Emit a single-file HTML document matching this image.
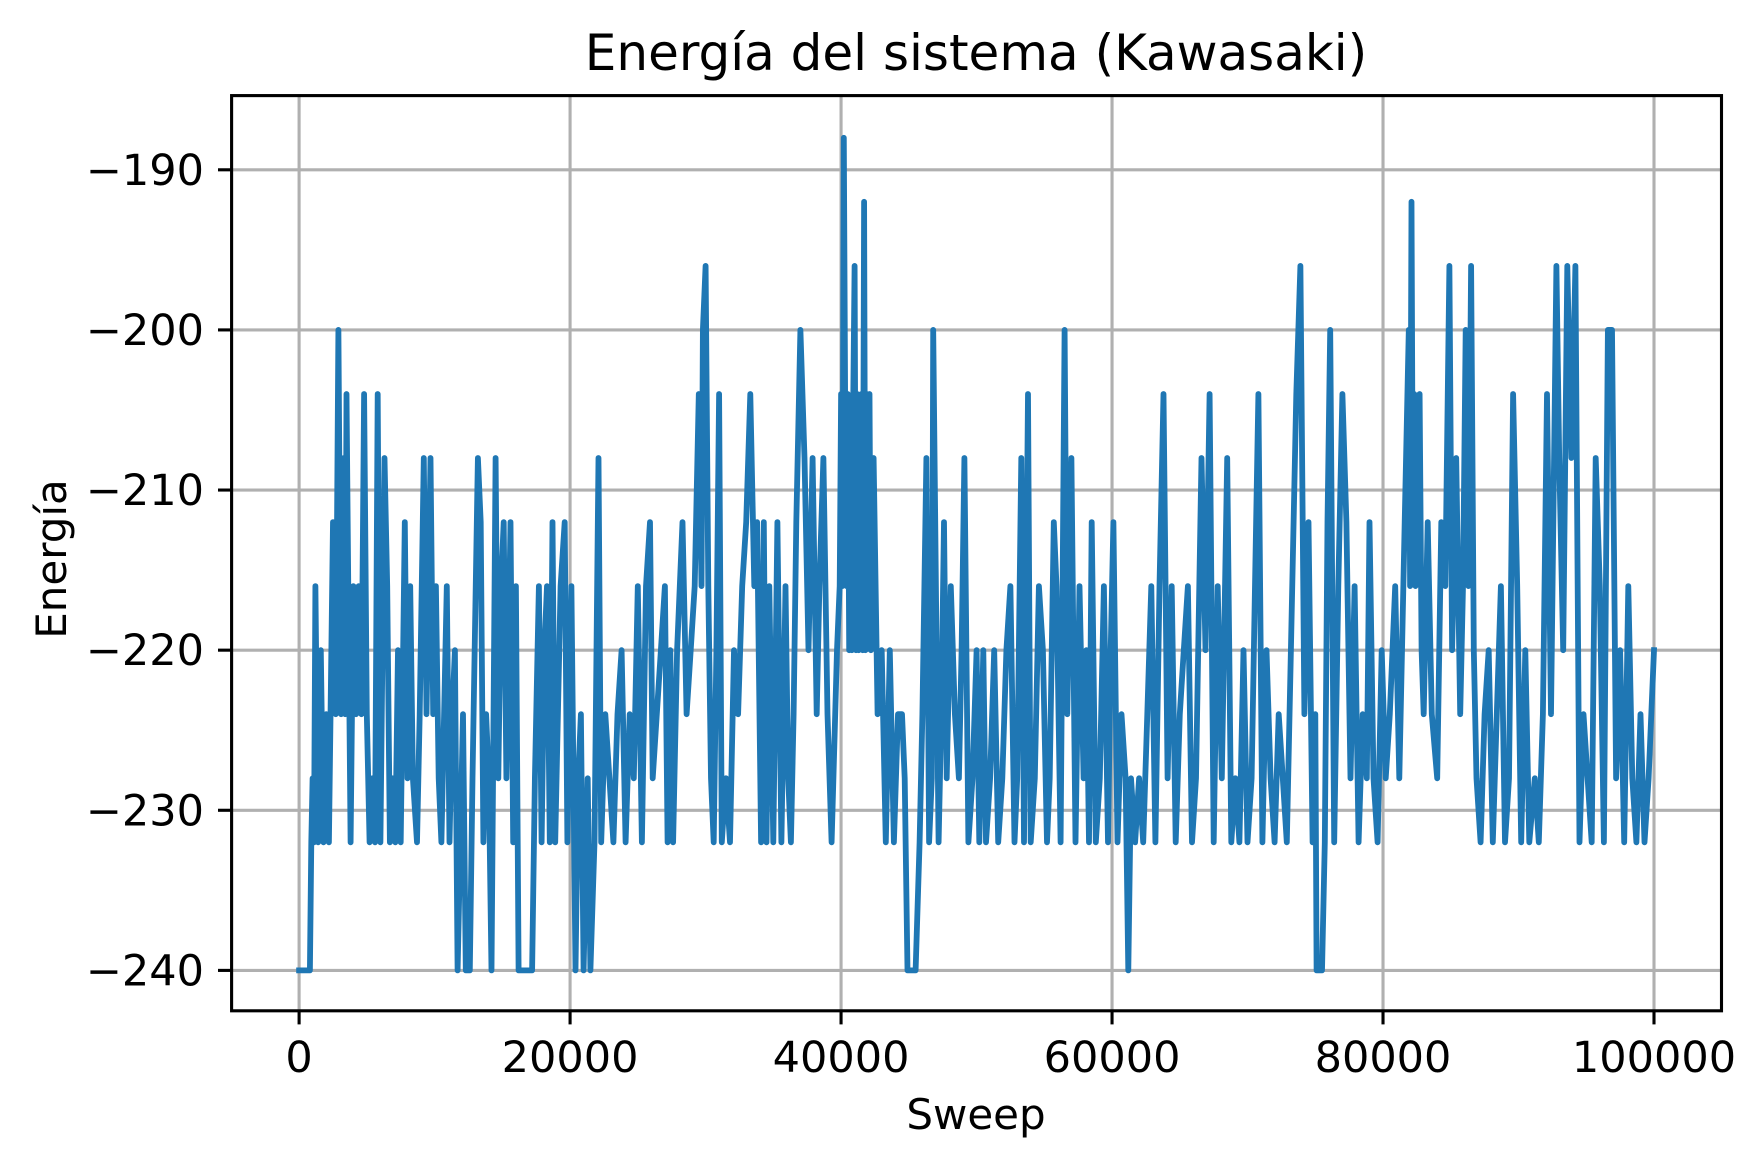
<!DOCTYPE html>
<html><head><meta charset="utf-8"><style>
html,body{margin:0;padding:0;background:#fff;}
svg{display:block;font-family:"DejaVu Sans","Liberation Sans",sans-serif;}
</style></head><body>
<svg id="chart" width="1763" height="1167" viewBox="0 0 1763 1167" xmlns="http://www.w3.org/2000/svg">
<rect x="0" y="0" width="1763" height="1167" fill="#fff"/>
<text x="976" y="70" font-size="50" text-anchor="middle" fill="#000">Energía del sistema (Kawasaki)</text>
<g id="grid"></g>
<g id="series"></g>
<rect x="231.6" y="95.6" width="1489.9" height="915.2" fill="none" stroke="#000" stroke-width="3.1"/>
<g id="xticks"></g>
<g id="yticks"></g>
<text x="976" y="1129" font-size="42" text-anchor="middle" fill="#000">Sweep</text>
<text x="0" y="0" font-size="42" text-anchor="middle" fill="#000" transform="translate(66,559) rotate(-90)">Energía</text>
</svg>
<script>
const xTickValues = [0, 20000, 40000, 60000, 80000, 100000];
const xTickLabels = ["0", "20000", "40000", "60000", "80000", "100000"];
const yTickValues = [-190, -200, -210, -220, -230, -240];
const yTickLabels = ["\u2212190", "\u2212200", "\u2212210", "\u2212220", "\u2212230", "\u2212240"];
const sweeps = [0,800,900,1000,1100,1200,1400,1600,1800,2000,2200,2500,2700,2900,3100,3300,3400,3500,3800,4000,4200,4400,4600,4800,5000,5200,5400,5600,5800,6000,6300,6500,6700,6900,7100,7300,7500,7800,8000,8200,8400,8700,8900,9200,9400,9700,9900,10100,10300,10500,10900,11100,11300,11500,11700,11900,12100,12300,12600,12800,13200,13400,13600,13800,14000,14200,14500,14700,14900,15100,15300,15600,15800,16000,16200,17200,17400,17700,17900,18100,18300,18500,18700,18900,19100,19300,19600,19800,20100,20400,20600,20800,21000,21300,21500,21800,22100,22300,22600,22900,23200,23500,23800,24100,24400,24700,25000,25300,25600,25900,26100,26400,26700,27000,27200,27400,27600,27900,28100,28300,28600,28900,29200,29500,29700,29800,30000,30200,30400,30600,30800,31000,31200,31500,31800,32100,32400,32700,33000,33300,33600,33800,34100,34300,34500,34700,35000,35300,35600,35900,36100,36300,36500,36700,37000,37300,37600,37900,38200,38400,38700,39000,39300,39700,39900,40000,40100,40200,40300,40400,40500,40600,40700,40800,40900,41000,41100,41200,41300,41400,41500,41600,41700,41800,41900,42000,42100,42200,42400,42700,43000,43300,43600,43900,44200,44500,44700,44900,45500,45800,46000,46300,46500,46700,46800,47000,47200,47400,47600,47800,48100,48400,48700,48900,49100,49400,49700,50000,50200,50500,50700,51000,51300,51600,51900,52200,52500,52800,53000,53300,53500,53800,54000,54300,54600,54900,55200,55400,55700,55900,56200,56500,56700,57000,57300,57600,57900,58100,58300,58500,58800,59100,59400,59700,59900,60100,60400,60700,61000,61200,61400,61700,62000,62300,62600,62900,63200,63500,63800,64100,64400,64700,65000,65300,65600,65900,66200,66600,66900,67200,67500,67800,68100,68500,68800,69100,69400,69700,70000,70300,70800,71100,71400,71700,72000,72300,72600,72900,73200,73600,73900,74200,74500,74800,75000,75100,75500,75700,75900,76100,76400,76700,77000,77300,77600,77900,78200,78500,78800,79000,79300,79600,79900,80200,80500,80900,81200,81600,81900,82000,82100,82200,82300,82400,82500,82700,82850,83000,83300,83600,84000,84300,84600,84900,85100,85400,85700,85900,86100,86300,86500,86700,86900,87200,87500,87800,88100,88400,88700,89000,89300,89600,89900,90200,90500,90800,91200,91500,91800,92100,92400,92800,93000,93300,93600,93900,94200,94500,94800,95100,95400,95700,96000,96300,96600,96900,97200,97500,97800,98100,98400,98700,99000,99300,99600,100000];
const energies = [-240,-240,-232,-228,-232,-216,-232,-220,-232,-224,-232,-212,-224,-200,-224,-208,-224,-204,-232,-216,-224,-216,-224,-204,-224,-232,-228,-232,-204,-232,-208,-216,-232,-228,-232,-220,-232,-212,-228,-216,-228,-232,-224,-208,-224,-208,-224,-216,-228,-232,-216,-232,-224,-220,-240,-232,-224,-240,-240,-228,-208,-212,-232,-224,-228,-240,-208,-228,-216,-212,-228,-212,-232,-216,-240,-240,-228,-216,-232,-220,-216,-232,-212,-232,-224,-216,-212,-232,-216,-240,-228,-224,-240,-228,-240,-232,-208,-232,-224,-228,-232,-224,-220,-232,-224,-228,-216,-232,-216,-212,-228,-224,-220,-216,-232,-220,-232,-220,-216,-212,-224,-220,-216,-204,-216,-200,-196,-216,-228,-232,-220,-204,-232,-228,-232,-220,-224,-216,-212,-204,-216,-212,-232,-212,-232,-216,-232,-212,-232,-216,-228,-232,-224,-212,-200,-208,-220,-208,-224,-216,-208,-224,-232,-220,-216,-204,-216,-188,-204,-216,-204,-220,-208,-220,-204,-196,-220,-204,-220,-208,-204,-220,-192,-220,-204,-216,-204,-220,-208,-224,-220,-232,-220,-232,-224,-224,-228,-240,-240,-232,-224,-208,-232,-228,-200,-216,-232,-224,-212,-228,-216,-224,-228,-220,-208,-232,-228,-220,-232,-220,-232,-228,-220,-232,-228,-220,-216,-232,-228,-208,-232,-204,-232,-228,-216,-220,-232,-228,-212,-216,-232,-200,-224,-208,-232,-216,-228,-220,-232,-212,-232,-228,-216,-232,-220,-212,-232,-224,-228,-240,-228,-232,-228,-232,-224,-216,-232,-216,-204,-228,-216,-232,-224,-220,-216,-232,-228,-208,-220,-204,-232,-216,-228,-208,-232,-228,-232,-220,-232,-228,-204,-232,-220,-228,-232,-224,-228,-232,-220,-204,-196,-224,-212,-232,-224,-240,-240,-232,-212,-200,-232,-216,-204,-212,-228,-216,-232,-224,-228,-212,-228,-232,-220,-228,-224,-216,-228,-212,-200,-216,-192,-212,-204,-216,-208,-204,-220,-224,-212,-224,-228,-212,-216,-196,-220,-208,-224,-216,-200,-216,-196,-220,-228,-232,-224,-220,-232,-224,-216,-232,-228,-204,-216,-232,-220,-232,-228,-232,-224,-204,-224,-196,-208,-220,-196,-208,-196,-232,-224,-228,-232,-208,-216,-232,-200,-200,-228,-220,-232,-216,-228,-232,-224,-232,-228,-220];

const NS = "http://www.w3.org/2000/svg";
const X0 = 299.1, X1 = 1654.0, YA = 169.8, YB = 970.4;
function xScale(v){ return X0 + (v - 0) / 100000 * (X1 - X0); }
function yScale(v){ return YA + (-190 - v) / 50 * (YB - YA); }
function mk(tag, attrs){ const e = document.createElementNS(NS, tag); for (const k in attrs) e.setAttribute(k, attrs[k]); return e; }

const grid = document.getElementById('grid');
const xt = document.getElementById('xticks');
const yt = document.getElementById('yticks');
xTickValues.forEach((v, i) => {
  const x = xScale(v);
  const g = mk('line', {x1:x, x2:x, y1:95.6, y2:1010.8, stroke:'#b0b0b0', 'stroke-width':3.1});
  
  
  grid.appendChild(g);
  const t = mk('line', {x1:x, x2:x, y1:1010.8, y2:1024.4, stroke:'#000', 'stroke-width':3.1});
  
  
  xt.appendChild(t);
  const l = mk('text', {x:x, y:1072, 'font-size':43, 'text-anchor':'middle', fill:'#000'});
  l.textContent = xTickLabels[i];
  
  
  xt.appendChild(l);
});
yTickValues.forEach((v, i) => {
  const y = yScale(v);
  const g = mk('line', {x1:231.6, x2:1721.5, y1:y, y2:y, stroke:'#b0b0b0', 'stroke-width':3.1});
  
  
  grid.appendChild(g);
  const t = mk('line', {x1:218, x2:231.6, y1:y, y2:y, stroke:'#000', 'stroke-width':3.1});
  
  
  yt.appendChild(t);
  const l = mk('text', {x:204, y:y + 15, 'font-size':43, 'text-anchor':'end', fill:'#000'});
  l.textContent = yTickLabels[i];
  
  
  yt.appendChild(l);
});
const pts = sweeps.map((s, i) => xScale(s).toFixed(1) + ',' + yScale(energies[i]).toFixed(1)).join(' ');
const line = mk('polyline', {points:pts, fill:'none', stroke:'#1f77b4', 'stroke-width':5.8, 'stroke-linejoin':'round', 'stroke-linecap':'square'});


document.getElementById('series').appendChild(line);
</script>
</body></html>
